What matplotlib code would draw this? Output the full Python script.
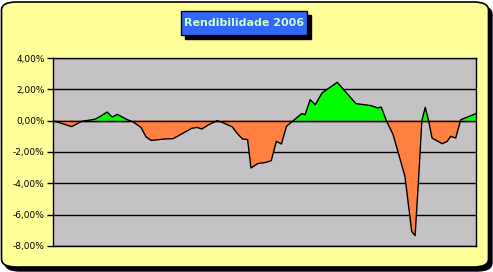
import matplotlib
matplotlib.use("Agg")
import matplotlib.pyplot as plt
from matplotlib.patches import FancyBboxPatch, Rectangle
from matplotlib.ticker import FuncFormatter

# trading day index and return (%)
dia = [0, 11, 17, 22, 25, 28, 32, 35, 38, 44, 47, 52, 55, 58, 61, 66, 71, 77, 82, 85,
       88, 92, 97, 100, 106, 109, 112, 115, 117, 121, 126, 129, 132, 135, 138, 142,
       147, 149, 152, 155, 159, 168, 179, 188, 192, 194, 197, 201, 208, 212, 214,
       216, 218, 220, 222, 224, 230, 233, 235, 238, 241, 250]
rend = [0.0, -0.38, -0.04, 0.04, 0.10, 0.28, 0.55, 0.23, 0.40, 0.06, -0.06, -0.43,
        -1.04, -1.26, -1.23, -1.17, -1.15, -0.79, -0.49, -0.43, -0.53, -0.26, 0.0,
        -0.11, -0.40, -0.83, -1.17, -1.21, -3.02, -2.74, -2.66, -2.55, -1.32, -1.49,
        -0.36, 0.0, 0.45, 0.38, 1.34, 1.02, 1.77, 2.45, 1.09, 0.96, 0.81, 0.87, 0.0,
        -0.89, -3.55, -7.07, -7.34, -3.87, 0.0, 0.85, 0.0, -1.11, -1.47, -1.32, -1.0,
        -1.11, 0.06, 0.45]
yticks = [4, 2, 0, -2, -4, -6, -8]
titulo = "Rendibilidade 2006"

W, H = 493, 272
fig = plt.figure(figsize=(W / 100, H / 100), dpi=100)
fig.patch.set_facecolor("white")

# outer frame with shadow
shadow = FancyBboxPatch((5 / W, 1 / H), 487 / W, 265 / H,
                        boxstyle="round,pad=0,rounding_size=0.03",
                        transform=fig.transFigure, facecolor="black",
                        edgecolor="black", zorder=-5)
frame = FancyBboxPatch((1.5 / W, 5 / H), 487 / W, 265 / H,
                       boxstyle="round,pad=0,rounding_size=0.03",
                       transform=fig.transFigure, facecolor="#FFFF99",
                       edgecolor="black", linewidth=1.2, zorder=-4)
fig.patches.extend([shadow, frame])

# title box
fig.patches.append(Rectangle((185 / W, 1 - 39 / H), 126 / W, 24 / H,
                             transform=fig.transFigure, facecolor="black",
                             edgecolor="black", zorder=-3))
fig.patches.append(Rectangle((181 / W, 1 - 35 / H), 126 / W, 24 / H,
                             transform=fig.transFigure, facecolor="#3366FF",
                             edgecolor="black", linewidth=1, zorder=-2))
fig.text(244 / W, 1 - 23 / H, titulo, ha="center", va="center",
         fontsize=8, fontweight="bold", color="#CCFFCC", zorder=3)

ax = fig.add_axes([53 / W, 1 - 246 / H, 423 / W, 188 / H])
ax.set_facecolor("#C4C2C4")
ax.fill_between(dia, rend, 0, where=[v >= 0 for v in rend], interpolate=True,
                color="#00FF00", linewidth=0)
ax.fill_between(dia, rend, 0, where=[v <= 0 for v in rend], interpolate=True,
                color="#FF8040", linewidth=0)
ax.axhline(0, color="black", linewidth=1, zorder=3)
ax.plot(dia, rend, color="black", linewidth=1, zorder=4)

ax.set_xlim(dia[0], dia[-1])
ax.set_ylim(-8, 4)
ax.set_yticks(yticks)
ax.yaxis.set_major_formatter(FuncFormatter(lambda v, p: f"{v:.2f}%".replace(".", ",")))
ax.grid(axis="y", color="black", linewidth=1)
ax.set_axisbelow(True)
ax.set_xticks([])
ax.tick_params(axis="y", direction="out", length=4, width=1, labelsize=6.5, pad=2)
for s in ax.spines.values():
    s.set_color("black")
    s.set_linewidth(1)

fig.savefig("out.png", dpi=100)
